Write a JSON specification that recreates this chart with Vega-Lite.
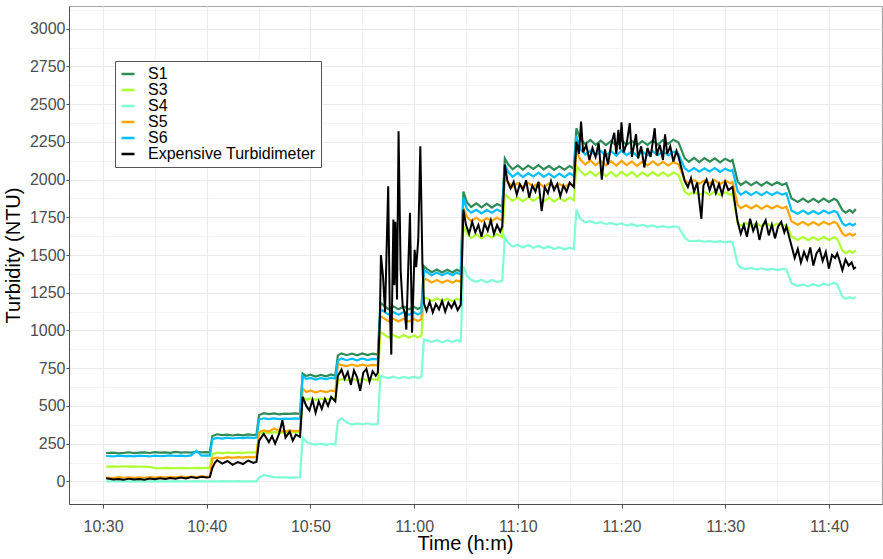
{
"$schema": "https://vega.github.io/schema/vega-lite/v6.json",
"width": 813,
"height": 498,
"autosize": {"type": "none"},
"padding": {"left": 69, "top": 6, "right": 1, "bottom": 55},
"background": "white",
"config": {
  "view": {"stroke": "#a6a6a6", "strokeWidth": 1},
  "font": "Liberation Sans",
  "axis": {"labelFont": "Liberation Sans", "labelFontSize": 16, "labelColor": "#4d4d4d", "titleFont": "Liberation Sans", "titleFontSize": 20, "titleFontWeight": "normal", "titleColor": "#000000", "domainColor": "#4d4d4d", "tickColor": "#4d4d4d", "gridColor": "#ebebeb"}
},
"datasets": {
"sensors": [
{"m":0.3,"S1":188,"S3":98,"S4":0,"S5":25,"S6":168},
{"m":1.0,"S1":191,"S3":99,"S4":0,"S5":22,"S6":165},
{"m":1.5,"S1":186,"S3":97,"S4":1,"S5":28,"S6":170},
{"m":2.0,"S1":189,"S3":100,"S4":0,"S5":24,"S6":167},
{"m":2.5,"S1":193,"S3":98,"S4":0,"S5":27,"S6":169},
{"m":3.0,"S1":187,"S3":99,"S4":1,"S5":23,"S6":166},
{"m":3.5,"S1":190,"S3":97,"S4":0,"S5":26,"S6":171},
{"m":4.0,"S1":192,"S3":98,"S4":0,"S5":24,"S6":168},
{"m":4.5,"S1":188,"S3":96,"S4":0,"S5":28,"S6":165},
{"m":5.0,"S1":194,"S3":88,"S4":1,"S5":25,"S6":170},
{"m":5.5,"S1":190,"S3":87,"S4":0,"S5":29,"S6":167},
{"m":6.0,"S1":192,"S3":89,"S4":0,"S5":26,"S6":169},
{"m":6.5,"S1":189,"S3":88,"S4":0,"S5":30,"S6":172},
{"m":7.0,"S1":195,"S3":87,"S4":1,"S5":27,"S6":168},
{"m":7.5,"S1":191,"S3":89,"S4":0,"S5":31,"S6":170},
{"m":8.0,"S1":193,"S3":88,"S4":0,"S5":28,"S6":167},
{"m":8.5,"S1":190,"S3":87,"S4":0,"S5":32,"S6":172},
{"m":9.0,"S1":196,"S3":89,"S4":1,"S5":29,"S6":203},
{"m":9.5,"S1":192,"S3":88,"S4":0,"S5":33,"S6":170},
{"m":10.0,"S1":194,"S3":90,"S4":0,"S5":30,"S6":172},
{"m":10.3,"S1":193,"S3":89,"S4":0,"S5":32,"S6":171},
{"m":10.55,"S1":300,"S3":180,"S4":0,"S5":150,"S6":280},
{"m":11.0,"S1":312,"S3":190,"S4":0,"S5":158,"S6":288},
{"m":11.5,"S1":306,"S3":186,"S4":1,"S5":153,"S6":283},
{"m":12.0,"S1":310,"S3":192,"S4":0,"S5":160,"S6":290},
{"m":12.5,"S1":304,"S3":187,"S4":0,"S5":156,"S6":284},
{"m":13.0,"S1":309,"S3":191,"S4":1,"S5":161,"S6":289},
{"m":13.5,"S1":305,"S3":189,"S4":0,"S5":157,"S6":286},
{"m":14.0,"S1":311,"S3":193,"S4":0,"S5":162,"S6":291},
{"m":14.5,"S1":307,"S3":190,"S4":0,"S5":159,"S6":287},
{"m":14.8,"S1":310,"S3":194,"S4":0,"S5":163,"S6":290},
{"m":15.05,"S1":440,"S3":315,"S4":25,"S5":325,"S6":408},
{"m":15.5,"S1":452,"S3":324,"S4":42,"S5":338,"S6":418},
{"m":16.0,"S1":446,"S3":320,"S4":35,"S5":330,"S6":413},
{"m":16.5,"S1":450,"S3":326,"S4":28,"S5":350,"S6":417},
{"m":17.0,"S1":444,"S3":321,"S4":26,"S5":335,"S6":412},
{"m":17.5,"S1":449,"S3":325,"S4":27,"S5":331,"S6":416},
{"m":18.0,"S1":447,"S3":322,"S4":25,"S5":336,"S6":414},
{"m":18.5,"S1":451,"S3":327,"S4":27,"S5":333,"S6":418},
{"m":19.0,"S1":448,"S3":324,"S4":28,"S5":337,"S6":415},
{"m":19.25,"S1":715,"S3":560,"S4":290,"S5":615,"S6":700},
{"m":19.6,"S1":698,"S3":540,"S4":262,"S5":592,"S6":678},
{"m":20.0,"S1":707,"S3":550,"S4":250,"S5":602,"S6":686},
{"m":20.5,"S1":694,"S3":540,"S4":244,"S5":588,"S6":674},
{"m":21.0,"S1":705,"S3":549,"S4":250,"S5":600,"S6":684},
{"m":21.5,"S1":696,"S3":541,"S4":242,"S5":591,"S6":677},
{"m":22.0,"S1":708,"S3":551,"S4":249,"S5":603,"S6":687},
{"m":22.4,"S1":700,"S3":544,"S4":245,"S5":595,"S6":680},
{"m":22.65,"S1":835,"S3":668,"S4":400,"S5":780,"S6":800},
{"m":23.0,"S1":848,"S3":678,"S4":418,"S5":770,"S6":814},
{"m":23.5,"S1":836,"S3":669,"S4":390,"S5":764,"S6":803},
{"m":24.0,"S1":847,"S3":680,"S4":376,"S5":774,"S6":813},
{"m":24.5,"S1":835,"S3":668,"S4":384,"S5":764,"S6":802},
{"m":25.0,"S1":848,"S3":679,"S4":377,"S5":773,"S6":814},
{"m":25.5,"S1":837,"S3":670,"S4":385,"S5":765,"S6":804},
{"m":26.0,"S1":846,"S3":678,"S4":376,"S5":772,"S6":812},
{"m":26.5,"S1":840,"S3":673,"S4":381,"S5":768,"S6":807},
{"m":26.75,"S1":1185,"S3":990,"S4":700,"S5":1095,"S6":1140},
{"m":27.1,"S1":1162,"S3":974,"S4":692,"S5":1080,"S6":1126},
{"m":27.5,"S1":1142,"S3":954,"S4":684,"S5":1062,"S6":1106},
{"m":28.0,"S1":1160,"S3":970,"S4":694,"S5":1078,"S6":1122},
{"m":28.5,"S1":1140,"S3":952,"S4":682,"S5":1060,"S6":1104},
{"m":29.0,"S1":1158,"S3":970,"S4":692,"S5":1078,"S6":1122},
{"m":29.5,"S1":1140,"S3":952,"S4":684,"S5":1060,"S6":1104},
{"m":30.0,"S1":1156,"S3":968,"S4":694,"S5":1076,"S6":1120},
{"m":30.35,"S1":1142,"S3":954,"S4":684,"S5":1062,"S6":1106},
{"m":30.7,"S1":1154,"S3":966,"S4":692,"S5":1074,"S6":1118},
{"m":30.95,"S1":1425,"S3":1220,"S4":940,"S5":1345,"S6":1400},
{"m":31.3,"S1":1404,"S3":1210,"S4":934,"S5":1334,"S6":1384},
{"m":31.7,"S1":1386,"S3":1196,"S4":924,"S5":1318,"S6":1366},
{"m":32.2,"S1":1404,"S3":1212,"S4":936,"S5":1334,"S6":1384},
{"m":32.7,"S1":1384,"S3":1194,"S4":922,"S5":1316,"S6":1366},
{"m":33.2,"S1":1402,"S3":1210,"S4":934,"S5":1332,"S6":1382},
{"m":33.7,"S1":1384,"S3":1194,"S4":924,"S5":1316,"S6":1366},
{"m":34.1,"S1":1402,"S3":1210,"S4":936,"S5":1332,"S6":1382},
{"m":34.5,"S1":1390,"S3":1200,"S4":928,"S5":1322,"S6":1372},
{"m":34.75,"S1":1920,"S3":1690,"S4":1425,"S5":1810,"S6":1880},
{"m":35.1,"S1":1848,"S3":1642,"S4":1362,"S5":1752,"S6":1804},
{"m":35.5,"S1":1818,"S3":1612,"S4":1335,"S5":1724,"S6":1780},
{"m":36.0,"S1":1842,"S3":1636,"S4":1322,"S5":1746,"S6":1800},
{"m":36.5,"S1":1815,"S3":1610,"S4":1336,"S5":1722,"S6":1776},
{"m":37.0,"S1":1840,"S3":1634,"S4":1318,"S5":1744,"S6":1798},
{"m":37.5,"S1":1814,"S3":1614,"S4":1334,"S5":1726,"S6":1780},
{"m":38.0,"S1":1838,"S3":1638,"S4":1320,"S5":1748,"S6":1802},
{"m":38.5,"S1":1822,"S3":1618,"S4":1330,"S5":1728,"S6":1784},
{"m":38.75,"S1":2140,"S3":1900,"S4":1620,"S5":2010,"S6":2100},
{"m":39.1,"S1":2098,"S3":1882,"S4":1578,"S5":1980,"S6":2048},
{"m":39.5,"S1":2068,"S3":1858,"S4":1556,"S5":1952,"S6":2018},
{"m":40.0,"S1":2094,"S3":1880,"S4":1568,"S5":1976,"S6":2044},
{"m":40.5,"S1":2066,"S3":1855,"S4":1550,"S5":1950,"S6":2016},
{"m":41.0,"S1":2092,"S3":1882,"S4":1566,"S5":1978,"S6":2042},
{"m":41.5,"S1":2070,"S3":1858,"S4":1548,"S5":1952,"S6":2020},
{"m":42.0,"S1":2096,"S3":1884,"S4":1560,"S5":1980,"S6":2046},
{"m":42.5,"S1":2068,"S3":1856,"S4":1544,"S5":1950,"S6":2018},
{"m":43.0,"S1":2090,"S3":1880,"S4":1556,"S5":1974,"S6":2040},
{"m":43.5,"S1":2064,"S3":1854,"S4":1540,"S5":1948,"S6":2014},
{"m":44.0,"S1":2088,"S3":1878,"S4":1552,"S5":1972,"S6":2040},
{"m":44.5,"S1":2066,"S3":1856,"S4":1538,"S5":1950,"S6":2016},
{"m":45.0,"S1":2090,"S3":1880,"S4":1548,"S5":1974,"S6":2042},
{"m":45.4,"S1":2072,"S3":1862,"S4":1540,"S5":1958,"S6":2024},
{"m":45.65,"S1":2340,"S3":2090,"S4":1800,"S5":2200,"S6":2290},
{"m":46.0,"S1":2272,"S3":2058,"S4":1742,"S5":2134,"S6":2204},
{"m":46.5,"S1":2236,"S3":2028,"S4":1716,"S5":2100,"S6":2166},
{"m":47.0,"S1":2262,"S3":2054,"S4":1724,"S5":2126,"S6":2192},
{"m":47.5,"S1":2230,"S3":2024,"S4":1710,"S5":2096,"S6":2160},
{"m":48.0,"S1":2258,"S3":2052,"S4":1718,"S5":2124,"S6":2190},
{"m":48.5,"S1":2228,"S3":2022,"S4":1704,"S5":2094,"S6":2158},
{"m":49.0,"S1":2256,"S3":2050,"S4":1712,"S5":2122,"S6":2188},
{"m":49.5,"S1":2226,"S3":2020,"S4":1700,"S5":2092,"S6":2158},
{"m":50.0,"S1":2260,"S3":2052,"S4":1710,"S5":2124,"S6":2192},
{"m":50.5,"S1":2230,"S3":2024,"S4":1696,"S5":2096,"S6":2162},
{"m":51.0,"S1":2256,"S3":2050,"S4":1704,"S5":2120,"S6":2186},
{"m":51.5,"S1":2226,"S3":2018,"S4":1692,"S5":2090,"S6":2156},
{"m":52.0,"S1":2254,"S3":2048,"S4":1700,"S5":2118,"S6":2186},
{"m":52.5,"S1":2230,"S3":2022,"S4":1688,"S5":2094,"S6":2160},
{"m":53.0,"S1":2258,"S3":2050,"S4":1696,"S5":2120,"S6":2188},
{"m":53.5,"S1":2232,"S3":2024,"S4":1684,"S5":2096,"S6":2162},
{"m":54.0,"S1":2262,"S3":2048,"S4":1692,"S5":2118,"S6":2186},
{"m":54.5,"S1":2236,"S3":2022,"S4":1682,"S5":2092,"S6":2160},
{"m":55.0,"S1":2264,"S3":2046,"S4":1690,"S5":2116,"S6":2184},
{"m":55.5,"S1":2246,"S3":2030,"S4":1684,"S5":2100,"S6":2168},
{"m":56.1,"S1":2140,"S3":1920,"S4":1615,"S5":1994,"S6":2074},
{"m":56.5,"S1":2118,"S3":1900,"S4":1594,"S5":1974,"S6":2054},
{"m":57.0,"S1":2144,"S3":1920,"S4":1592,"S5":1996,"S6":2076},
{"m":57.5,"S1":2116,"S3":1898,"S4":1596,"S5":1972,"S6":2052},
{"m":58.0,"S1":2142,"S3":1918,"S4":1588,"S5":1994,"S6":2074},
{"m":58.5,"S1":2118,"S3":1898,"S4":1594,"S5":1974,"S6":2054},
{"m":59.0,"S1":2140,"S3":1920,"S4":1586,"S5":1996,"S6":2076},
{"m":59.5,"S1":2114,"S3":1896,"S4":1592,"S5":1970,"S6":2050},
{"m":60.0,"S1":2138,"S3":1916,"S4":1584,"S5":1992,"S6":2072},
{"m":60.5,"S1":2120,"S3":1900,"S4":1590,"S5":1976,"S6":2056},
{"m":60.7,"S1":2130,"S3":1910,"S4":1585,"S5":1984,"S6":2064},
{"m":61.2,"S1":1988,"S3":1715,"S4":1440,"S5":1832,"S6":1922},
{"m":61.5,"S1":1964,"S3":1694,"S4":1416,"S5":1810,"S6":1900},
{"m":62.0,"S1":1986,"S3":1712,"S4":1406,"S5":1830,"S6":1920},
{"m":62.5,"S1":1962,"S3":1690,"S4":1414,"S5":1808,"S6":1898},
{"m":63.0,"S1":1984,"S3":1710,"S4":1404,"S5":1830,"S6":1918},
{"m":63.5,"S1":1960,"S3":1690,"S4":1412,"S5":1806,"S6":1896},
{"m":64.0,"S1":1984,"S3":1710,"S4":1402,"S5":1828,"S6":1918},
{"m":64.5,"S1":1962,"S3":1688,"S4":1410,"S5":1808,"S6":1898},
{"m":65.0,"S1":1982,"S3":1708,"S4":1400,"S5":1826,"S6":1916},
{"m":65.5,"S1":1964,"S3":1692,"S4":1408,"S5":1810,"S6":1900},
{"m":65.9,"S1":1976,"S3":1700,"S4":1404,"S5":1820,"S6":1910},
{"m":66.4,"S1":1874,"S3":1622,"S4":1312,"S5":1722,"S6":1794},
{"m":67.0,"S1":1852,"S3":1600,"S4":1294,"S5":1700,"S6":1774},
{"m":67.5,"S1":1874,"S3":1620,"S4":1304,"S5":1720,"S6":1794},
{"m":68.0,"S1":1850,"S3":1598,"S4":1292,"S5":1698,"S6":1772},
{"m":68.5,"S1":1872,"S3":1618,"S4":1306,"S5":1718,"S6":1792},
{"m":69.0,"S1":1850,"S3":1598,"S4":1294,"S5":1698,"S6":1772},
{"m":69.5,"S1":1874,"S3":1620,"S4":1310,"S5":1720,"S6":1794},
{"m":70.0,"S1":1852,"S3":1600,"S4":1300,"S5":1702,"S6":1776},
{"m":70.5,"S1":1872,"S3":1618,"S4":1316,"S5":1720,"S6":1792},
{"m":70.8,"S1":1860,"S3":1608,"S4":1306,"S5":1708,"S6":1782},
{"m":71.3,"S1":1798,"S3":1530,"S4":1224,"S5":1644,"S6":1710},
{"m":71.6,"S1":1780,"S3":1512,"S4":1210,"S5":1626,"S6":1694},
{"m":72.0,"S1":1798,"S3":1528,"S4":1220,"S5":1642,"S6":1708},
{"m":72.3,"S1":1782,"S3":1514,"S4":1212,"S5":1628,"S6":1696},
{"m":72.6,"S1":1804,"S3":1530,"S4":1222,"S5":1644,"S6":1710}
],
"ref": [
{"m":0.3,"v":20},{"m":1.0,"v":12},{"m":1.5,"v":15},{"m":2.0,"v":10},{"m":2.5,"v":18},{"m":3.0,"v":13},{"m":3.5,"v":16},{"m":4.0,"v":11},{"m":4.5,"v":19},{"m":5.0,"v":14},{"m":5.5,"v":20},{"m":6.0,"v":15},{"m":6.5,"v":22},{"m":7.0,"v":17},{"m":7.5,"v":25},{"m":8.0,"v":19},{"m":8.5,"v":28},{"m":9.0,"v":22},{"m":9.5,"v":30},{"m":10.0,"v":26},{"m":10.3,"v":28},
{"m":10.55,"v":90},{"m":10.8,"v":125},{"m":11.0,"v":140},{"m":11.5,"v":118},{"m":12.0,"v":135},{"m":12.5,"v":110},{"m":13.0,"v":128},{"m":13.5,"v":115},{"m":14.0,"v":138},{"m":14.5,"v":122},{"m":14.8,"v":130},
{"m":15.05,"v":270},{"m":15.5,"v":315},{"m":16.0,"v":260},{"m":16.3,"v":300},{"m":16.6,"v":250},{"m":17.0,"v":320},{"m":17.3,"v":405},{"m":17.6,"v":290},{"m":18.0,"v":330},{"m":18.3,"v":270},{"m":18.6,"v":310},{"m":19.0,"v":295},
{"m":19.25,"v":560},{"m":19.6,"v":500},{"m":19.9,"v":470},{"m":20.2,"v":540},{"m":20.5,"v":455},{"m":20.8,"v":530},{"m":21.1,"v":480},{"m":21.4,"v":545},{"m":21.7,"v":500},{"m":22.0,"v":560},{"m":22.4,"v":530},
{"m":22.65,"v":700},{"m":23.0,"v":740},{"m":23.3,"v":680},{"m":23.6,"v":725},{"m":23.9,"v":640},{"m":24.2,"v":735},{"m":24.5,"v":690},{"m":24.8,"v":600},{"m":25.1,"v":720},{"m":25.4,"v":745},{"m":25.7,"v":660},{"m":26.0,"v":730},{"m":26.3,"v":700},{"m":26.5,"v":720},
{"m":26.7,"v":1080},{"m":26.8,"v":1500},{"m":27.0,"v":1360},{"m":27.2,"v":1120},{"m":27.5,"v":1955},{"m":27.65,"v":1150},{"m":27.8,"v":840},{"m":28.0,"v":1735},{"m":28.1,"v":1300},{"m":28.2,"v":1720},{"m":28.35,"v":1205},{"m":28.5,"v":2320},{"m":28.7,"v":1400},{"m":28.9,"v":1160},{"m":29.1,"v":1120},{"m":29.25,"v":1005},{"m":29.6,"v":1780},{"m":29.8,"v":985},{"m":30.05,"v":1535},{"m":30.2,"v":1420},{"m":30.4,"v":1600},{"m":30.6,"v":2220},{"m":30.8,"v":1450},
{"m":30.95,"v":1180},{"m":31.2,"v":1130},{"m":31.5,"v":1190},{"m":31.8,"v":1120},{"m":32.1,"v":1175},{"m":32.4,"v":1140},{"m":32.7,"v":1195},{"m":33.0,"v":1125},{"m":33.3,"v":1185},{"m":33.6,"v":1150},{"m":33.9,"v":1190},{"m":34.2,"v":1135},{"m":34.5,"v":1170},
{"m":34.75,"v":1800},{"m":35.0,"v":1700},{"m":35.3,"v":1640},{"m":35.6,"v":1720},{"m":35.9,"v":1650},{"m":36.2,"v":1700},{"m":36.5,"v":1620},{"m":36.8,"v":1710},{"m":37.1,"v":1660},{"m":37.4,"v":1730},{"m":37.7,"v":1640},{"m":38.0,"v":1700},{"m":38.3,"v":1655},{"m":38.5,"v":1690},
{"m":38.75,"v":2100},{"m":39.0,"v":1990},{"m":39.3,"v":1940},{"m":39.6,"v":1985},{"m":39.9,"v":1900},{"m":40.2,"v":1970},{"m":40.5,"v":1930},{"m":40.8,"v":1995},{"m":41.1,"v":1880},{"m":41.4,"v":1960},{"m":41.7,"v":1920},{"m":42.0,"v":1985},{"m":42.3,"v":1790},{"m":42.6,"v":1950},{"m":42.9,"v":1910},{"m":43.2,"v":1990},{"m":43.5,"v":1930},{"m":43.8,"v":1970},{"m":44.1,"v":1890},{"m":44.4,"v":1960},{"m":44.7,"v":1920},{"m":45.0,"v":1980},{"m":45.4,"v":1950},
{"m":45.65,"v":2250},{"m":45.9,"v":2170},{"m":46.1,"v":2385},{"m":46.3,"v":2180},{"m":46.6,"v":2230},{"m":46.9,"v":2130},{"m":47.2,"v":2210},{"m":47.5,"v":2150},{"m":47.8,"v":2240},{"m":48.1,"v":2000},{"m":48.4,"v":2200},{"m":48.7,"v":2100},{"m":49.0,"v":2230},{"m":49.3,"v":2310},{"m":49.5,"v":2170},{"m":49.7,"v":2330},{"m":49.85,"v":2200},{"m":50.0,"v":2380},{"m":50.2,"v":2180},{"m":50.5,"v":2240},{"m":50.8,"v":2375},{"m":51.0,"v":2150},{"m":51.4,"v":2300},{"m":51.6,"v":2140},{"m":51.9,"v":2220},{"m":52.2,"v":2080},{"m":52.5,"v":2210},{"m":52.8,"v":2150},{"m":53.0,"v":2240},{"m":53.2,"v":2340},{"m":53.4,"v":2160},{"m":53.7,"v":2230},{"m":54.0,"v":2130},{"m":54.2,"v":2300},{"m":54.4,"v":2170},{"m":54.7,"v":2220},{"m":55.0,"v":2120},{"m":55.3,"v":2190},{"m":55.5,"v":2150},
{"m":56.1,"v":1990},{"m":56.4,"v":1950},{"m":56.7,"v":2010},{"m":57.0,"v":1920},{"m":57.3,"v":1980},{"m":57.7,"v":1740},{"m":57.9,"v":1960},{"m":58.2,"v":2000},{"m":58.5,"v":1930},{"m":58.8,"v":1990},{"m":59.1,"v":1910},{"m":59.4,"v":1970},{"m":59.7,"v":1900},{"m":60.0,"v":1985},{"m":60.3,"v":1930},{"m":60.7,"v":1950},
{"m":61.2,"v":1720},{"m":61.5,"v":1640},{"m":61.8,"v":1700},{"m":62.1,"v":1620},{"m":62.4,"v":1740},{"m":62.7,"v":1660},{"m":63.0,"v":1710},{"m":63.3,"v":1600},{"m":63.6,"v":1690},{"m":63.9,"v":1730},{"m":64.2,"v":1630},{"m":64.5,"v":1700},{"m":64.8,"v":1610},{"m":65.1,"v":1690},{"m":65.4,"v":1720},{"m":65.7,"v":1650},{"m":65.9,"v":1690},
{"m":66.4,"v":1560},{"m":66.7,"v":1480},{"m":67.0,"v":1540},{"m":67.3,"v":1450},{"m":67.6,"v":1520},{"m":67.9,"v":1470},{"m":68.2,"v":1550},{"m":68.5,"v":1430},{"m":68.8,"v":1510},{"m":69.1,"v":1540},{"m":69.4,"v":1460},{"m":69.7,"v":1520},{"m":70.0,"v":1410},{"m":70.3,"v":1500},{"m":70.6,"v":1480},{"m":70.8,"v":1510},
{"m":71.0,"v":1470},{"m":71.3,"v":1400},{"m":71.6,"v":1470},{"m":71.9,"v":1430},{"m":72.2,"v":1450},{"m":72.4,"v":1410},{"m":72.6,"v":1420}
]
},
"encoding": {
  "x": {"field": "m", "type": "quantitative", "scale": {"domain": [-3.28, 75.12], "nice": false, "zero": false},
    "axis": {"title": "Time (h:m)", "values": [0,5,10,15,20,25,30,35,40,45,50,55,60,65,70,75],
      "labelExpr": "datum.value % 10 == 0 ? (10 + floor((datum.value + 30) / 60)) + ':' + (((datum.value + 30) % 60) == 0 ? '00' : ((datum.value + 30) % 60)) : ''",
      "gridWidth": {"condition": {"test": "datum.value % 10 != 0", "value": 0.55}, "value": 1.1},
      "tickOpacity": {"condition": {"test": "datum.value % 10 != 0", "value": 0}, "value": 1},
      "tickSize": 4, "labelPadding": 10, "titlePadding": -1, "titleX": 396}},
  "y": {"field": "v", "type": "quantitative", "scale": {"domain": [-150, 3150], "nice": false, "zero": false},
    "axis": {"title": "Turbidity (NTU)", "values": [-125,0,125,250,375,500,625,750,875,1000,1125,1250,1375,1500,1625,1750,1875,2000,2125,2250,2375,2500,2625,2750,2875,3000,3125],
      "labelExpr": "datum.value % 250 == 0 && datum.value >= 0 ? datum.value : ''",
      "gridWidth": {"condition": {"test": "datum.value % 250 != 0", "value": 0.55}, "value": 1.1},
      "tickOpacity": {"condition": {"test": "datum.value % 250 != 0", "value": 0}, "value": 1},
      "tickSize": 3, "labelPadding": 1, "titlePadding": 6}}
},
"layer": [
  {"data": {"name": "sensors"},
   "transform": [{"fold": ["S1", "S3", "S4", "S5", "S6"], "as": ["series", "v"]}],
   "mark": {"type": "line", "strokeWidth": 2.2},
   "encoding": {"color": {"field": "series", "type": "nominal",
      "scale": {"domain": ["S1", "S3", "S4", "S5", "S6", "Expensive Turbidimeter"], "range": ["#2E8B57", "#ADFF2F", "#7FFFD4", "#FFA500", "#00BFFF", "#000000"]},
      "legend": {"title": null, "orient": "none", "legendX": 46, "legendY": 55, "padding": 5, "strokeColor": "#555555", "fillColor": "#ffffff", "symbolType": "stroke", "symbolSize": 169, "symbolStrokeWidth": 2.5, "labelFont": "Liberation Sans", "labelFontSize": 16, "labelColor": "#000000", "labelOffset": 12, "rowPadding": 0, "labelLimit": 300}}}},
  {"data": {"name": "ref"},
   "mark": {"type": "line", "strokeWidth": 2},
   "encoding": {"color": {"datum": "Expensive Turbidimeter"}}}
]
}
